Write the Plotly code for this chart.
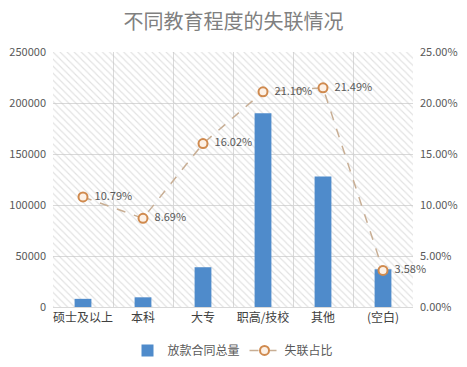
import plotly.graph_objects as go

categories = ["硕士及以上", "本科", "大专", "职高/技校", "其他", "(空白)"]
loan_totals = [8000, 9500, 39000, 190000, 128000, 37000]
lost_ratio = [10.79, 8.69, 16.02, 21.10, 21.49, 3.58]
left_ticks = [0, 50000, 100000, 150000, 200000, 250000]
right_max = 25

fig = go.Figure()

# hatched plot-area background
fig.add_trace(go.Bar(
    x=categories, y=[left_ticks[-1]] * len(categories), width=1,
    marker=dict(color="rgba(0,0,0,0)", line=dict(width=0),
                pattern=dict(shape="\\", fgcolor="#C4C4C4", bgcolor="rgba(0,0,0,0)",
                             size=5, solidity=0.22)),
    showlegend=False, hoverinfo="skip"))

fig.add_trace(go.Bar(
    x=categories, y=loan_totals, name="放款合同总量", width=0.28,
    marker=dict(color="#4F8BCB", line=dict(width=0))))

fig.add_trace(go.Scatter(
    x=categories, y=lost_ratio, name="失联占比", yaxis="y2",
    mode="lines+markers+text", cliponaxis=False,
    text=[f"  {v:.2f}%" for v in lost_ratio], textposition="middle right",
    textfont=dict(size=11, color="#595959"),
    line=dict(color="#C8AE94", width=1.5, dash="dash"),
    marker=dict(size=9, color="#FDF1E6", line=dict(color="#D08A4E", width=2))))

fig.update_layout(
    width=467, height=367,
    margin=dict(l=53, r=54, t=52, b=60, autoexpand=False),
    paper_bgcolor="white", plot_bgcolor="white",
    barmode="overlay",
    font=dict(family="Noto Sans CJK SC, Noto Sans, sans-serif", size=11, color="#595959"),
    title=dict(text="不同教育程度的失联情况", x=0.5, xanchor="center",
               yref="container", y=0.94, yanchor="middle",
               font=dict(size=20, color="#808080")),
    xaxis=dict(type="category", tickson="boundaries", showgrid=True, gridcolor="#D9D9D9",
               ticks="", showline=True, linecolor="#D9D9D9", tickangle=0, automargin=False,
               tickfont=dict(size=12, color="#404040"), range=[-0.5, 5.5]),
    yaxis=dict(range=[0, left_ticks[-1]], tickvals=left_ticks, tickformat="d", automargin=False,
               showgrid=True, gridcolor="#D9D9D9",
               zeroline=False, tickfont=dict(size=11, color="#595959"), ticklabelstandoff=6),
    yaxis2=dict(overlaying="y", side="right", range=[0, right_max], dtick=5, automargin=False,
                tickformat=".2f", ticksuffix="%", showgrid=False, zeroline=False,
                tickfont=dict(size=11, color="#595959"), ticklabelstandoff=6),
    legend=dict(orientation="h", x=0.5, xanchor="center", yref="container",
                y=0.045, yanchor="middle",
                font=dict(size=12, color="#595959")),
)

fig.write_html("out.html", config={"displayModeBar": False},
               post_script="document.body.style.margin='0';")
